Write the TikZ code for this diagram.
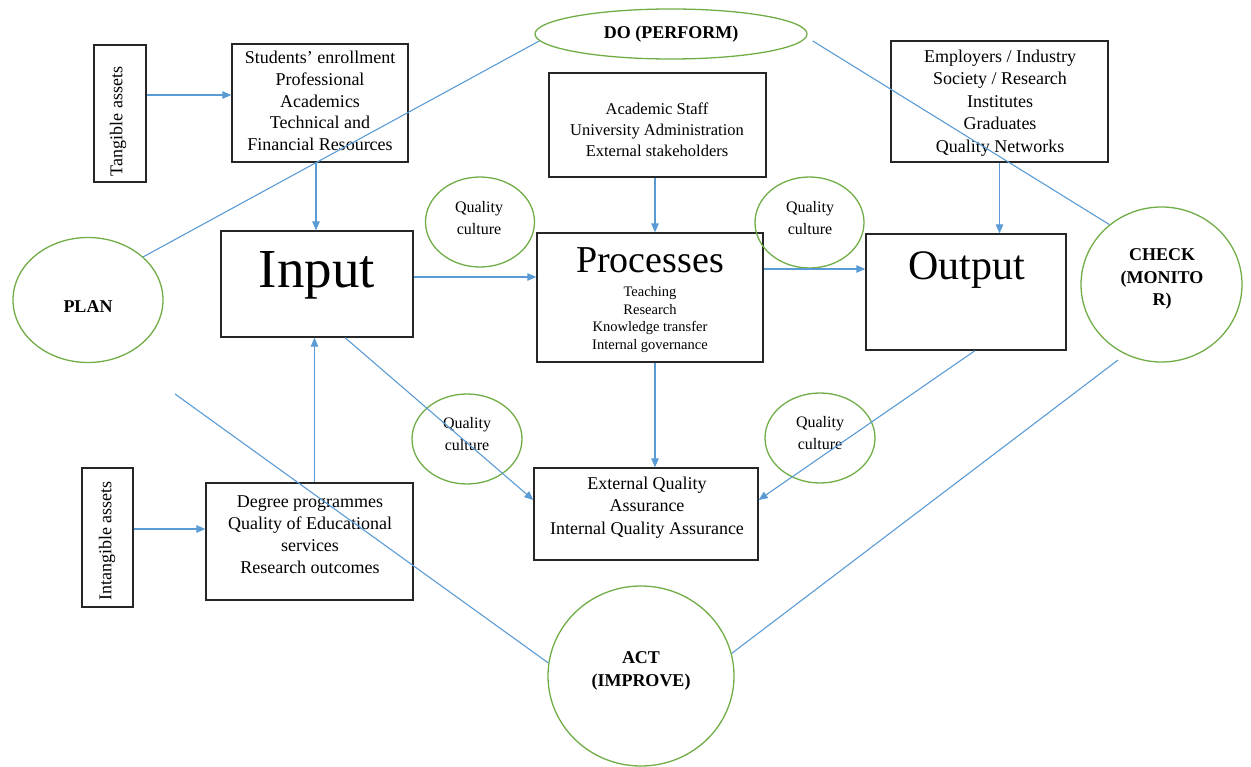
\documentclass[tikz,border=0pt]{standalone}
\usepackage{fontspec}
\setmainfont{Liberation Serif}
\usetikzlibrary{arrows.meta,shapes.geometric}
\definecolor{linkblue}{HTML}{5B9BD5}
\definecolor{pdcagreen}{HTML}{70AD47}
\begin{document}
\begin{tikzpicture}[x=1pt,y=-1pt,
  box/.style={draw=black!85,line width=1.3pt,inner sep=0pt},
  oval/.style={ellipse,draw=pdcagreen,line width=1.3pt,inner sep=0pt},
  link/.style={draw=linkblue,line width=1.1pt},
  arr/.style={link,-{Triangle[length=9pt,width=7.5pt]}},
  txt/.style={align=center,inner sep=0pt,font=\fontsize{18}{22}\selectfont},
  small/.style={align=center,inner sep=0pt,font=\fontsize{16.5}{21}\selectfont},
  qtxt/.style={align=center,inner sep=0pt,font=\fontsize{16}{22}\selectfont},
  pdca/.style={align=center,inner sep=0pt,font=\fontsize{18}{23}\selectfont\bfseries},
  big/.style={inner sep=0pt,anchor=base}
]
\useasboundingbox (0,0) rectangle (1251,767);

% boxes
\node[box,minimum width=52pt,minimum height=137pt] (tang) at (120,113.5) {};
\node[box,minimum width=176pt,minimum height=118pt] (stud) at (320,103) {};
\node[box,minimum width=192pt,minimum height=106pt] (input) at (317,284) {};
\node[box,minimum width=207pt,minimum height=117pt] (deg) at (309.5,541.5) {};
\node[box,minimum width=51pt,minimum height=139pt] (intang) at (107.5,537.5) {};
\node[box,minimum width=217pt,minimum height=104pt] (acad) at (657.5,125) {};
\node[box,minimum width=226pt,minimum height=129pt] (proc) at (650,297.5) {};
\node[box,minimum width=217pt,minimum height=121pt] (emp) at (999.5,101.5) {};
\node[box,minimum width=200pt,minimum height=116pt] (out) at (966,292) {};
\node[box,minimum width=224pt,minimum height=92pt] (eqa) at (646,514) {};

% PDCA ovals and quality-culture ovals
\node[oval,minimum width=272pt,minimum height=50pt] (do) at (671,34) {};
\node[oval,minimum width=150pt,minimum height=125pt] (plan) at (88,300) {};
\node[oval,minimum width=161pt,minimum height=155pt] (check) at (1161.5,284.5) {};
\node[oval,minimum width=186pt,minimum height=180pt] (act) at (641,676) {};
\node[oval,minimum width=109pt,minimum height=90pt] (qc1) at (480,222) {};
\node[oval,minimum width=109pt,minimum height=91pt] (qc2) at (809.5,222.5) {};
\node[oval,minimum width=110pt,minimum height=90pt] (qc3) at (467,439) {};
\node[oval,minimum width=110pt,minimum height=90pt] (qc4) at (820,438) {};

% texts
\node[txt,rotate=90] (tang-t) at (118,121.5) {Tangible assets};
\node[txt,rotate=90] (intang-t) at (107,541) {Intangible assets};
\node[txt,font=\fontsize{18}{21.7}\selectfont] (stud-t) at (320,101) {Students’ enrollment\\Professional\\Academics\\Technical and\\Financial Resources};
\node[small] (acad-t) at (657,129.5) {Academic Staff\\University Administration\\External stakeholders};
\node[txt,font=\fontsize{18}{22.5}\selectfont] (emp-t) at (1000,103) {Employers / Industry\\Society / Research\\Institutes\\Graduates\\Quality Networks};
\node[txt] (deg-t) at (310,535) {Degree programmes\\Quality of Educational\\services\\Research outcomes};
\node[txt,font=\fontsize{18}{22.5}\selectfont] (eqa-t) at (647,507.5) {External Quality\\Assurance\\Internal Quality Assurance};
\node[big,font=\fontsize{55}{60}\selectfont] (input-t) at (317,288) {Input};
\node[big,font=\fontsize{38}{42}\selectfont] (proc-t) at (650,273) {Processes};
\node[align=center,inner sep=0pt,font=\fontsize{14.5}{17.5}\selectfont] (proc-s) at (650,319.5) {Teaching\\Research\\Knowledge transfer\\Internal governance};
\node[big,font=\fontsize{42}{46}\selectfont] (out-t) at (967,280) {Output};
\node[qtxt] (qc1-t) at (479,218) {Quality\\culture};
\node[qtxt] (qc2-t) at (810,218) {Quality\\culture};
\node[qtxt] (qc3-t) at (467,434) {Quality\\culture};
\node[qtxt] (qc4-t) at (820,433) {Quality\\culture};
\node[pdca] (do-t) at (671,34) {DO (PERFORM)};
\node[pdca] (plan-t) at (88,307) {PLAN};
\node[pdca,font=\fontsize{18}{22.5}\selectfont\bfseries] (check-t) at (1162,279) {CHECK\\(MONITO\\R)};
\node[pdca] (act-t) at (641,671) {ACT\\(IMPROVE)};

% flow arrows
\draw[arr] ([yshift=8pt]tang.east |- stud.west) -- ([yshift=8pt]stud.west);
\draw[arr] ([xshift=-4pt]stud.south) -- ([xshift=-4pt]stud.south |- input.north);
\draw[arr] ([yshift=12.5pt]intang.east |- deg.west) -- ([yshift=12.5pt]deg.west);
\draw[arr] ([xshift=5pt]deg.north) -- ([xshift=5pt]deg.north |- input.south);
\draw[arr] ([yshift=7pt]input.east) -- ([yshift=7pt]input.east -| proc.west);
\draw[arr] ([xshift=-2.5pt]acad.south) -- ([xshift=-2.5pt]acad.south |- proc.north);
\draw[arr] ([yshift=23pt]out.west -| proc.east) -- ([yshift=23pt]out.west);
\draw[arr] (emp.south) -- (emp.south |- out.north);
\draw[arr] ([xshift=5pt]proc.south) -- ([xshift=5pt]proc.south |- eqa.north);
\draw[arr] ([xshift=28pt]input.south) -- ([yshift=14pt]eqa.west);
\draw[arr] ([xshift=9pt]out.south) -- ([yshift=14pt]eqa.east);

% PDCA cycle lines
\coordinate (free) at (175,394);
\draw[link] (plan.38) -- (do.183.7);
\draw[link] ([xshift=10pt]do.-3.7) -- (check.131.5);
\draw[link] ([xshift=-3pt,yshift=-8pt]check.239.5) -- (act.14);
\draw[link] (free) -- (act.172.6);
\end{tikzpicture}
\end{document}
